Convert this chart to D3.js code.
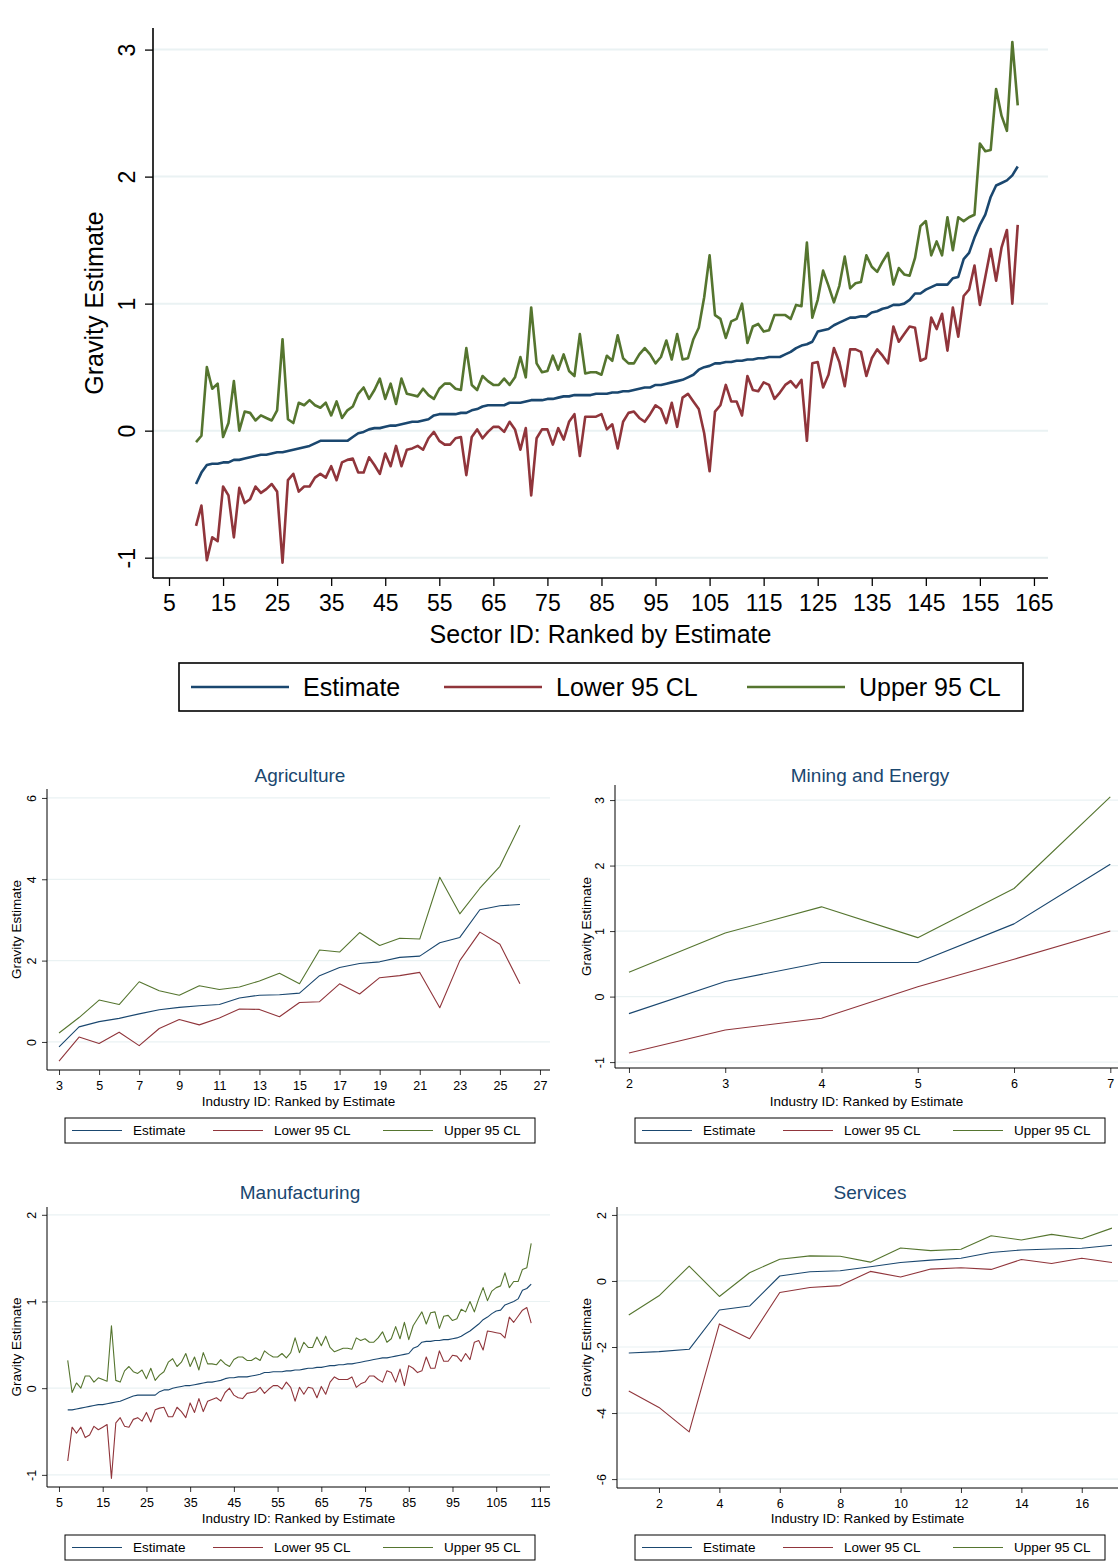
<!DOCTYPE html>
<html><head><meta charset="utf-8">
<script src="https://cdn.jsdelivr.net/npm/d3@7"></script>
<style>body{margin:0;background:#fff;font-family:"Liberation Sans",Arial,sans-serif}</style>
</head><body><svg id="c" width="1119" height="1564"></svg>
<script>
// ---------- DATA ----------
const allStart = 10;
const allEst = [-0.42,-0.33,-0.27,-0.26,-0.26,-0.25,-0.25,-0.23,-0.23,-0.22,-0.21,-0.20,-0.19,-0.19,-0.18,-0.17,-0.17,-0.16,-0.15,-0.14,-0.13,-0.12,-0.10,-0.08,-0.08,-0.08,-0.08,-0.08,-0.08,-0.05,-0.02,-0.01,0.01,0.02,0.02,0.03,0.04,0.04,0.05,0.06,0.07,0.07,0.08,0.09,0.12,0.13,0.13,0.13,0.13,0.14,0.14,0.16,0.17,0.19,0.20,0.20,0.20,0.20,0.22,0.22,0.22,0.23,0.24,0.24,0.24,0.25,0.25,0.26,0.27,0.27,0.28,0.28,0.28,0.28,0.29,0.29,0.29,0.30,0.30,0.31,0.31,0.32,0.33,0.34,0.34,0.36,0.36,0.37,0.38,0.39,0.40,0.42,0.44,0.48,0.50,0.51,0.53,0.53,0.54,0.54,0.55,0.55,0.56,0.56,0.57,0.57,0.58,0.58,0.58,0.60,0.62,0.65,0.67,0.68,0.70,0.78,0.79,0.80,0.83,0.85,0.87,0.89,0.89,0.90,0.90,0.93,0.94,0.96,0.97,0.99,0.99,1.00,1.03,1.08,1.08,1.11,1.13,1.15,1.15,1.15,1.20,1.21,1.35,1.40,1.52,1.62,1.70,1.84,1.93,1.95,1.97,2.01,2.08];
const allUp = [-0.09,-0.04,0.50,0.33,0.37,-0.05,0.06,0.39,0.00,0.15,0.14,0.08,0.12,0.10,0.08,0.16,0.72,0.09,0.06,0.22,0.20,0.24,0.20,0.18,0.22,0.12,0.23,0.10,0.16,0.19,0.29,0.34,0.25,0.32,0.41,0.25,0.37,0.21,0.41,0.29,0.28,0.27,0.33,0.28,0.25,0.33,0.37,0.37,0.33,0.32,0.65,0.36,0.32,0.43,0.39,0.36,0.36,0.41,0.36,0.42,0.58,0.42,0.97,0.53,0.46,0.47,0.59,0.48,0.60,0.47,0.43,0.76,0.45,0.46,0.46,0.44,0.59,0.55,0.75,0.57,0.53,0.53,0.60,0.65,0.60,0.53,0.58,0.71,0.56,0.76,0.56,0.57,0.72,0.81,1.05,1.38,0.91,0.88,0.73,0.86,0.88,1.00,0.69,0.82,0.84,0.78,0.79,0.91,0.91,0.91,0.88,0.99,0.98,1.48,0.89,1.03,1.26,1.14,1.01,1.14,1.37,1.12,1.16,1.17,1.38,1.29,1.25,1.33,1.40,1.15,1.28,1.23,1.22,1.36,1.61,1.65,1.38,1.49,1.38,1.68,1.42,1.68,1.65,1.68,1.70,2.26,2.20,2.21,2.69,2.48,2.36,3.06,2.56];
const allLo = [-0.75,-0.59,-1.02,-0.84,-0.87,-0.44,-0.51,-0.84,-0.45,-0.57,-0.54,-0.44,-0.49,-0.46,-0.42,-0.48,-1.04,-0.39,-0.34,-0.48,-0.44,-0.44,-0.37,-0.34,-0.37,-0.28,-0.39,-0.25,-0.23,-0.22,-0.33,-0.33,-0.21,-0.27,-0.34,-0.18,-0.28,-0.12,-0.28,-0.15,-0.14,-0.12,-0.15,-0.06,-0.01,-0.08,-0.11,-0.11,-0.06,-0.05,-0.35,-0.05,0.01,-0.06,-0.01,0.03,0.03,-0.01,0.07,0.01,-0.15,0.02,-0.51,-0.06,0.01,0.01,-0.11,0.02,-0.07,0.07,0.13,-0.20,0.11,0.11,0.11,0.13,0.01,0.05,-0.14,0.07,0.14,0.15,0.10,0.07,0.13,0.20,0.17,0.06,0.22,0.03,0.26,0.29,0.23,0.17,-0.02,-0.32,0.15,0.20,0.36,0.23,0.23,0.12,0.43,0.32,0.31,0.38,0.36,0.25,0.30,0.36,0.39,0.34,0.40,-0.08,0.53,0.54,0.34,0.44,0.65,0.54,0.35,0.64,0.64,0.62,0.43,0.57,0.64,0.59,0.53,0.82,0.70,0.76,0.82,0.81,0.55,0.57,0.89,0.80,0.92,0.63,0.97,0.74,1.06,1.11,1.30,0.99,1.21,1.43,1.18,1.44,1.58,1.00,1.62];

const agStart = 3;
const agEst = [-0.12,0.37,0.50,0.58,0.69,0.79,0.85,0.89,0.92,1.08,1.15,1.16,1.20,1.63,1.83,1.93,1.97,2.08,2.11,2.44,2.57,3.25,3.35,3.38];
const agUp = [0.22,0.60,1.03,0.92,1.48,1.26,1.15,1.38,1.29,1.35,1.50,1.69,1.43,2.26,2.21,2.69,2.37,2.55,2.53,4.05,3.15,3.78,4.32,5.33];
const agLo = [-0.47,0.12,-0.04,0.24,-0.09,0.33,0.55,0.42,0.59,0.81,0.80,0.62,0.97,0.99,1.43,1.18,1.58,1.63,1.71,0.84,2.00,2.70,2.40,1.43];

const miStart = 2;
const miEst = [-0.26,0.23,0.52,0.52,1.11,2.02];
const miUp = [0.37,0.97,1.37,0.90,1.65,3.05];
const miLo = [-0.86,-0.51,-0.33,0.15,0.57,1.00];

const maStart = 7;
const maEst = [-0.25,-0.25,-0.24,-0.23,-0.22,-0.21,-0.20,-0.19,-0.19,-0.18,-0.17,-0.16,-0.15,-0.13,-0.11,-0.09,-0.08,-0.08,-0.08,-0.08,-0.08,-0.04,-0.02,-0.02,0.00,0.01,0.02,0.03,0.03,0.04,0.05,0.06,0.07,0.07,0.08,0.09,0.11,0.12,0.12,0.13,0.13,0.13,0.14,0.15,0.16,0.18,0.18,0.19,0.19,0.19,0.20,0.20,0.21,0.21,0.22,0.23,0.23,0.24,0.24,0.25,0.26,0.26,0.27,0.27,0.28,0.28,0.29,0.30,0.31,0.32,0.33,0.34,0.35,0.35,0.36,0.37,0.38,0.39,0.40,0.46,0.48,0.53,0.54,0.54,0.55,0.55,0.56,0.56,0.57,0.58,0.60,0.63,0.66,0.70,0.74,0.79,0.82,0.86,0.89,0.90,0.96,0.98,1.00,1.03,1.13,1.15,1.20];
const maUp = [0.32,-0.05,0.06,0.00,0.14,0.14,0.07,0.12,0.10,0.08,0.72,0.09,0.07,0.20,0.25,0.19,0.17,0.21,0.11,0.23,0.09,0.15,0.19,0.30,0.34,0.25,0.30,0.40,0.25,0.36,0.21,0.41,0.28,0.28,0.27,0.33,0.28,0.25,0.33,0.36,0.36,0.32,0.32,0.35,0.32,0.43,0.39,0.36,0.36,0.40,0.35,0.41,0.58,0.41,0.53,0.47,0.47,0.59,0.49,0.60,0.47,0.42,0.44,0.46,0.46,0.45,0.58,0.55,0.57,0.53,0.53,0.58,0.65,0.53,0.57,0.71,0.57,0.76,0.56,0.72,0.80,0.88,0.74,0.87,0.88,0.69,0.83,0.84,0.78,0.80,0.91,0.88,1.00,0.88,1.03,1.16,1.01,1.12,1.16,1.18,1.33,1.16,1.23,1.23,1.37,1.39,1.67];
const maLo = [-0.84,-0.45,-0.52,-0.45,-0.57,-0.54,-0.44,-0.48,-0.45,-0.42,-1.04,-0.40,-0.34,-0.44,-0.45,-0.36,-0.34,-0.38,-0.28,-0.39,-0.25,-0.23,-0.22,-0.33,-0.33,-0.22,-0.27,-0.34,-0.17,-0.28,-0.12,-0.27,-0.15,-0.13,-0.11,-0.15,-0.05,0.00,-0.08,-0.11,-0.12,-0.06,-0.05,-0.04,0.01,-0.06,-0.01,0.03,0.03,-0.01,0.07,0.01,-0.15,0.01,-0.07,0.01,0.00,-0.11,0.02,-0.07,0.07,0.13,0.10,0.10,0.10,0.13,0.01,0.05,0.07,0.14,0.14,0.10,0.07,0.20,0.18,0.07,0.22,0.03,0.26,0.23,0.18,0.20,0.36,0.23,0.23,0.43,0.31,0.31,0.38,0.37,0.31,0.40,0.33,0.53,0.55,0.44,0.66,0.65,0.64,0.63,0.58,0.82,0.76,0.83,0.90,0.93,0.75];

const seStart = 1;
const seEst = [-2.18,-2.14,-2.07,-0.88,-0.76,0.15,0.28,0.31,0.43,0.56,0.63,0.69,0.86,0.94,0.97,0.99,1.08];
const seUp = [-1.03,-0.45,0.45,-0.47,0.25,0.66,0.76,0.75,0.57,1.00,0.92,0.96,1.37,1.24,1.41,1.28,1.60];
const seLo = [-3.33,-3.83,-4.57,-1.30,-1.75,-0.35,-0.20,-0.14,0.29,0.12,0.36,0.40,0.35,0.65,0.53,0.69,0.56];

const seriesNames = ["Estimate","Lower 95 CL","Upper 95 CL"];
const mainXTicks = d3.range(5,166,10);
const mainYTicks = [-1,0,1,2,3];

// ---------- DRAW ----------
const colors = ["#1a476f","#90353b","#55752f"];
const svg = d3.select("#c");
const fmt = d => String(d);

function panel(cfg){
  const g = svg.append("g");
  const x = d3.scaleLinear().domain(cfg.xd).range([cfg.l, cfg.r]);
  const y = d3.scaleLinear().domain(cfg.yd).range([cfg.b, cfg.t]);
  g.selectAll(".gr").data(cfg.yt).join("line")
    .attr("x1",cfg.l).attr("x2",cfg.r).attr("y1",d=>y(d)).attr("y2",d=>y(d))
    .attr("stroke","#eaf2f3").attr("stroke-width",cfg.s.grid);
  const sets=[cfg.est,cfg.lo,cfg.up];
  [1,2,0].forEach(i=>{
    const line=d3.line().x((d,j)=>x(cfg.start+j)).y(d=>y(d));
    g.append("path").attr("d",line(sets[i])).attr("fill","none")
      .attr("stroke",colors[i]).attr("stroke-width",cfg.s.lw).attr("stroke-linejoin","round");
  });
  const xa = g.append("g").attr("transform",`translate(0,${cfg.b})`)
    .call(d3.axisBottom(x).tickValues(cfg.xt).tickFormat(fmt).tickSize(cfg.s.tick).tickSizeOuter(0));
  xa.select(".domain").attr("d",`M${cfg.l},0H${cfg.r}`).attr("stroke","#000").attr("stroke-width",cfg.s.ax);
  xa.selectAll("text").attr("font-size",cfg.s.tf).attr("font-family","Liberation Sans, Arial").attr("fill","#000").attr("dy","0.95em");
  xa.selectAll(".tick line").attr("stroke-width",cfg.s.ax*0.8);
  const ya = g.append("g").attr("transform",`translate(${cfg.l},0)`)
    .call(d3.axisLeft(y).tickValues(cfg.yt).tickFormat(fmt).tickSize(cfg.s.tick).tickSizeOuter(0));
  ya.select(".domain").attr("d",`M0,${cfg.b}V${cfg.t}`).attr("stroke","#000").attr("stroke-width",cfg.s.ax);
  ya.selectAll(".tick line").attr("stroke-width",cfg.s.ax*0.8);
  ya.selectAll("text").attr("font-size",cfg.s.tf).attr("font-family","Liberation Sans, Arial").attr("fill","#000")
    .attr("x",0).attr("dy",0).attr("text-anchor","middle")
    .attr("transform",`translate(${-cfg.s.tick-cfg.s.tf*0.45},0) rotate(-90)`);
  g.append("text").attr("x",(cfg.l+cfg.r)/2).attr("y",cfg.xtY).attr("text-anchor","middle")
    .attr("font-size",cfg.s.af).text(cfg.xtitle);
  g.append("text").attr("transform",`translate(${cfg.ytX},${(cfg.t+cfg.b)/2}) rotate(-90)`)
    .attr("text-anchor","middle").attr("font-size",cfg.s.af).text("Gravity Estimate");
  if(cfg.title) g.append("text").attr("x",cfg.titleX).attr("y",cfg.titleY).attr("text-anchor","middle")
    .attr("font-size",cfg.s.ttf).attr("fill","#1a476f").text(cfg.title);
  const L=cfg.leg;
  g.append("rect").attr("x",L.x).attr("y",L.y).attr("width",L.w).attr("height",L.h)
    .attr("fill","#fff").attr("stroke","#000").attr("stroke-width",cfg.s.ax);
  seriesNames.forEach((n,i)=>{
    const ox=L.x+L.items[i];
    g.append("line").attr("x1",ox).attr("x2",ox+L.sw).attr("y1",L.y+L.h/2).attr("y2",L.y+L.h/2)
      .attr("stroke",colors[i]).attr("stroke-width",cfg.s.lw);
    g.append("text").attr("x",ox+L.sw+L.gap).attr("y",L.y+L.h/2).attr("dy","0.36em")
      .attr("font-size",cfg.s.lf).text(n);
  });
}

const big={grid:2,lw:2.6,tick:8,ax:1.6,tf:23,af:25,ttf:0,lf:25};
const small={grid:1.2,lw:1.1,tick:5,ax:1,tf:12.5,af:13.5,ttf:19,lf:13.5};

panel({start:allStart,est:allEst,lo:allLo,up:allUp,xd:[2.04,167.6],yd:[-1.16,3.17],
  l:153,r:1048,t:28,b:578,xt:mainXTicks,yt:mainYTicks,s:big,
  xtitle:"Sector ID: Ranked by Estimate",xtY:643,ytX:103,
  leg:{x:179,y:663,w:844,h:48,items:[12,265,568],sw:98,gap:14}});

const legS=(x)=>({x:x,w:470,h:25,items:[7,148,318],sw:50,gap:11});
panel({start:agStart,est:agEst,lo:agLo,up:agUp,xd:[2.4,27.5],yd:[-0.69,6.22],
  l:47,r:550,t:789,b:1070,xt:d3.range(3,28,2),yt:[0,2,4,6],s:small,
  xtitle:"Industry ID: Ranked by Estimate",xtY:1106,ytX:21,title:"Agriculture",titleX:300,titleY:782,
  leg:Object.assign(legS(65),{y:1118})});
panel({start:miStart,est:miEst,lo:miLo,up:miUp,xd:[1.855,7.08],yd:[-1.09,3.23],
  l:615,r:1118,t:785,b:1068,xt:[2,3,4,5,6,7],yt:[-1,0,1,2,3],s:small,
  xtitle:"Industry ID: Ranked by Estimate",xtY:1106,ytX:591,title:"Mining and Energy",titleX:870,titleY:782,
  leg:Object.assign(legS(635),{y:1118})});
panel({start:maStart,est:maEst,lo:maLo,up:maUp,xd:[2.26,117.3],yd:[-1.14,2.09],
  l:47,r:550,t:1207,b:1487,xt:d3.range(5,116,10),yt:[-1,0,1,2],s:small,
  xtitle:"Industry ID: Ranked by Estimate",xtY:1523,ytX:21,title:"Manufacturing",titleX:300,titleY:1199,
  leg:Object.assign(legS(65),{y:1535})});
panel({start:seStart,est:seEst,lo:seLo,up:seUp,xd:[0.61,17.2],yd:[-6.27,2.24],
  l:617,r:1118,t:1207,b:1488,xt:d3.range(2,17,2),yt:[-6,-4,-2,0,2],s:small,
  xtitle:"Industry ID: Ranked by Estimate",xtY:1523,ytX:591,title:"Services",titleX:870,titleY:1199,
  leg:Object.assign(legS(635),{y:1535})});
</script></body></html>
